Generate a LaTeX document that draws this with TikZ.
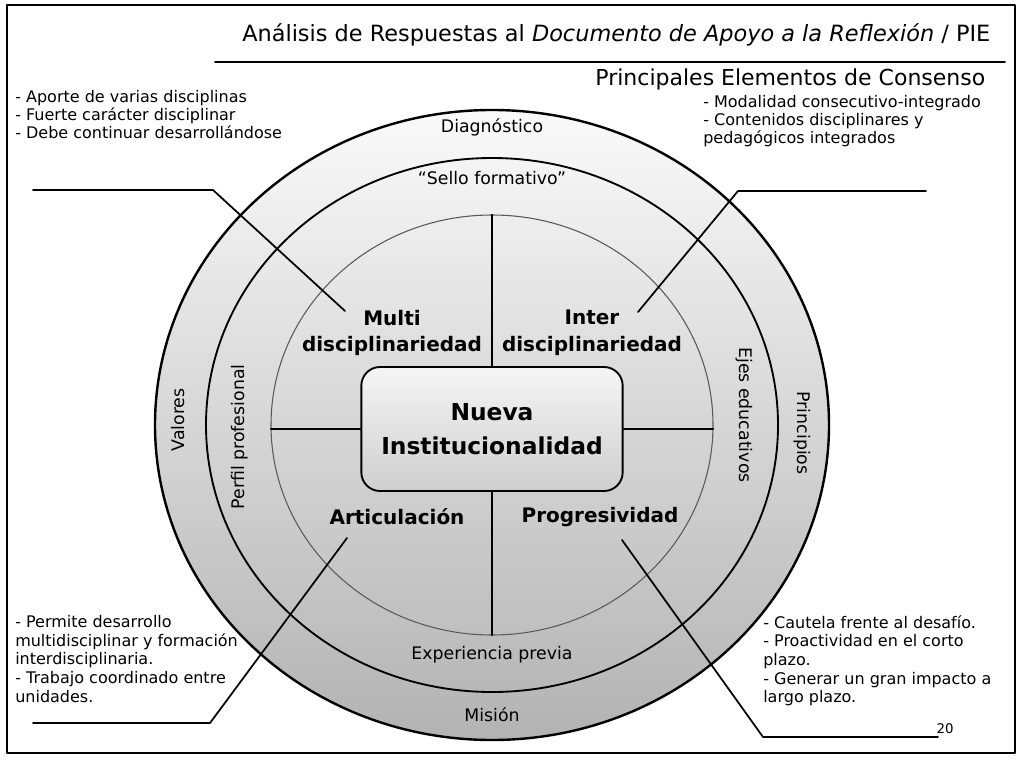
\documentclass[tikz,border=0pt]{standalone}
\usepackage{fontspec}
\setmainfont{DejaVu Sans}
\usetikzlibrary{positioning}
\begin{document}
\begin{tikzpicture}[line cap=round,line join=round,x=0.75pt,y=-0.75pt,
  conn/.style={line width=1.3pt},
  bul/.style={align=left,anchor=north west,inner sep=0pt,font=\fontsize{12}{13.6}\selectfont},
  ringlbl/.style={font=\fontsize{13}{15}\selectfont},
  quad/.style={align=center,font=\bfseries\fontsize{15}{20}\selectfont}]
\useasboundingbox (0,0) rectangle (1019,763);
\draw [line width=0.8pt] (7,5) rectangle (1015,753);
% titulo
\node [anchor=east,font=\fontsize{16.8}{18}\selectfont] (title) at (995,35) {Análisis de Respuestas al \textit{Documento de Apoyo a la Reflexión} / PIE};
\draw [line width=1.2pt] (215,62) -- (1005,62);
\node [anchor=east,font=\fontsize{16.5}{18}\selectfont] (subtitle) at (990,79) {Principales Elementos de Consenso};
% anillos
\shade [top color=gray!4,bottom color=gray!60] (492,425) ellipse [x radius=337,y radius=315];
\draw [line width=1.8pt] (492,425) ellipse [x radius=337,y radius=315];
\draw [line width=1.4pt] (492,425) ellipse [x radius=286,y radius=267];
\draw [gray!70!black,line width=0.8pt] (492,425) ellipse [x radius=221,y radius=210];
\coordinate (inN) at (492,215);
\coordinate (inS) at (492,635);
\coordinate (inW) at (271,425);
\coordinate (inE) at (713,425);
% nucleo
\node [draw,line width=1.4pt,rounded corners=14pt,top color=gray!8,bottom color=gray!38,
  minimum width=196pt,minimum height=93pt,align=center,
  font=\bfseries\fontsize{17.5}{25}\selectfont] (core) at (492,429) {Nueva\\Institucionalidad};
\draw [line width=1.8pt] (core.north) -- (inN);
\draw [line width=1.8pt] (core.south) -- (inS);
\draw [line width=1.8pt] (core.west) -- (core.west -| inW);
\draw [line width=1.8pt] (core.east) -- (core.east -| inE);
\node [quad] (multi) at (392,333) {Multi\\disciplinariedad};
\node [quad] (inter) at (592,333) {Inter\\disciplinariedad};
\node [quad] (artic) at (397,517) {Articulación};
\node [quad] (progr) at (600,517) {Progresividad};
% etiquetas de los anillos
\node [ringlbl] (diag) at (492,127) {Diagnóstico};
\node [ringlbl] (sello) at (492,178) {“Sello formativo”};
\node [ringlbl] (exper) at (492,655) {Experiencia previa};
\node [ringlbl] (mision) at (492,715) {Misión};
\node [ringlbl,rotate=90] (valores) at (178,420) {Valores};
\node [ringlbl,rotate=90] (perfil) at (240,437) {Perfil profesional};
\node [ringlbl,rotate=-90] (ejes) at (744,415) {Ejes educativos};
\node [ringlbl,rotate=-90] (princ) at (802,433) {Principios};
% notas
\node [bul] (tlnote) at (15,90) {- Aporte de varias disciplinas\\- Fuerte carácter disciplinar\\- Debe continuar desarrollándose};
\node [bul] (trnote) at (703,95) {- Modalidad consecutivo-integrado\\- Contenidos disciplinares y\\pedagógicos integrados};
\node [bul,font=\fontsize{12}{14}\selectfont] (blnote) at (15,615) {- Permite desarrollo\\multidisciplinar y formación\\interdisciplinaria.\\- Trabajo coordinado entre\\ unidades.};
\node [bul,font=\fontsize{12}{14}\selectfont] (brnote) at (763,615) {- Cautela frente al desafío.\\- Proactividad en el corto\\plazo.\\- Generar un gran impacto a\\largo plazo.};
\node [font=\fontsize{10}{12}\selectfont] (pnum) at (945,729) {20};
% conectores
\coordinate (tlA) at (33,190);
\coordinate (tlB) at (213,190);
\coordinate (mdTip) at (345,311);
\coordinate (trA) at (926,191);
\coordinate (trB) at (738,191);
\coordinate (idTip) at (638,312);
\coordinate (blA) at (33,723);
\coordinate (blB) at (210,723);
\coordinate (arTip) at (347,538);
\coordinate (brA) at (938,737);
\coordinate (brB) at (763,737);
\coordinate (prTip) at (622,540);
\draw [conn] (tlA) -- (tlB) -- (mdTip);
\draw [conn] (trA) -- (trB) -- (idTip);
\draw [conn] (blA) -- (blB) -- (arTip);
\draw [conn] (brA) -- (brB) -- (prTip);
\end{tikzpicture}
\end{document}
